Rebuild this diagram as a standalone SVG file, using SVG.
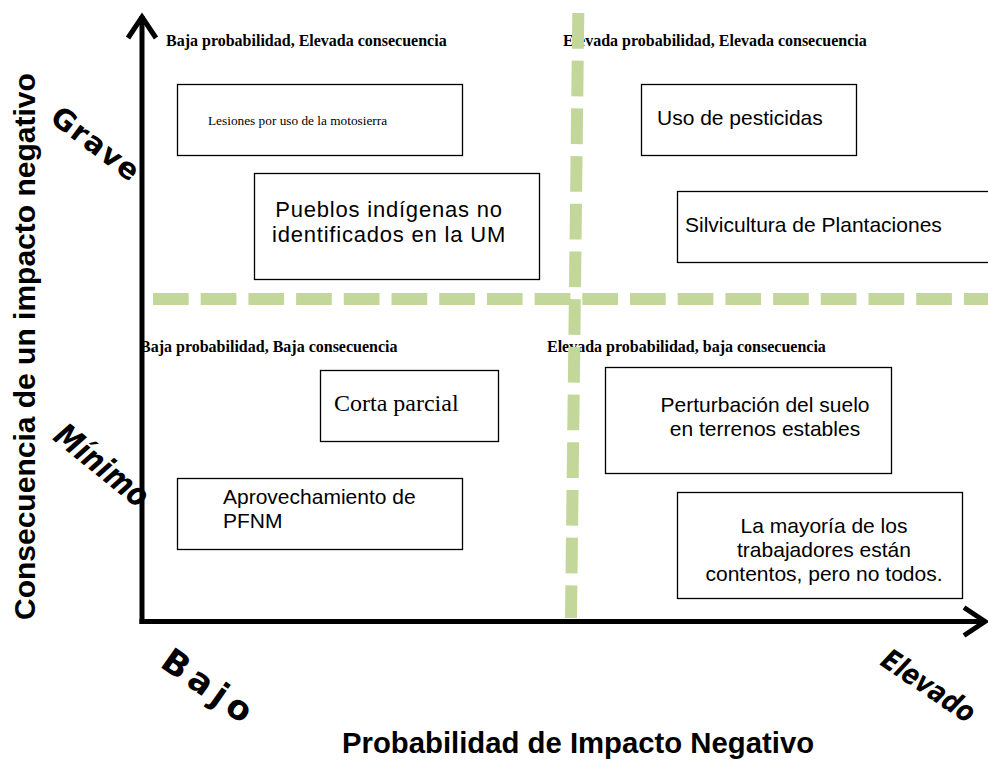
<svg xmlns="http://www.w3.org/2000/svg" width="988" height="760" viewBox="0 0 988 760">
<style>
.box{fill:#fff;stroke:#000;stroke-width:1.3}
.hdr{font-family:"Liberation Serif","Times New Roman",serif;font-weight:bold;font-size:16px;fill:#000}
.sans{font-family:"Liberation Sans",Arial,sans-serif;font-size:21px;fill:#000}
.big{font-family:"Liberation Sans",Arial,sans-serif;font-weight:bold;font-size:29.3px;fill:#000}
.rot{font-family:"DejaVu Sans","Liberation Sans",sans-serif;font-weight:bold;fill:#000}
.dash{stroke:#c4d79b;stroke-width:12;stroke-dasharray:35.7 12;fill:none}
.axis{stroke:#000;stroke-width:5;fill:none}
</style>
<defs>
<marker id="chev" markerUnits="userSpaceOnUse" markerWidth="40" markerHeight="40" viewBox="-30 -20 40 40" refX="0" refY="0" orient="auto">
<path d="M-22,-14 L-1,0 L-22,14" fill="none" stroke="#000" stroke-width="5"/>
</marker>
</defs>
<rect width="988" height="760" fill="#fff"/>

<g id="quadrant-labels">
<text class="hdr" x="166" y="46">Baja probabilidad, Elevada consecuencia</text>
<text class="hdr" x="563" y="46">Elevada probabilidad, Elevada consecuencia</text>
<text class="hdr" x="140" y="352">Baja probabilidad, Baja consecuencia</text>
<text class="hdr" x="547" y="352">Elevada probabilidad, baja consecuencia</text>
</g>

<g id="axis-labels">
<text class="big" style="font-size:30px" transform="translate(35,620) rotate(-90)">Consecuencia de un impacto negativo</text>
<text class="big" x="342" y="753">Probabilidad de Impacto Negativo</text>
<text class="rot" style="font-size:29px;letter-spacing:1.5px" text-anchor="middle" transform="translate(90,152) rotate(37)">Grave</text>
<text class="rot" style="font-size:27px;font-style:italic" text-anchor="middle" transform="translate(95,474) rotate(39) scale(1,1.2)">Mínimo</text>
<text class="rot" style="font-size:34px;letter-spacing:6px" text-anchor="middle" transform="translate(203,697) rotate(35)">Bajo</text>
<text class="rot" style="font-size:24px;font-style:italic" text-anchor="middle" transform="translate(923,694) rotate(34) scale(1,1.2)">Elevado</text>
</g>

<g id="connectors">
<line class="dash" x1="153" y1="299" x2="1000" y2="299"/>
<line class="dash" x1="578.3" y1="13" x2="571" y2="618"/>
<line class="axis" x1="142" y1="624" x2="142" y2="16" marker-end="url(#chev)"/>
<line class="axis" x1="139.5" y1="621.5" x2="986" y2="621.5" marker-end="url(#chev)"/>
</g>

<g id="node-lesiones">
<rect class="box" x="177.5" y="84.5" width="285" height="71"/>
<text x="208" y="125" font-family="'Liberation Serif','Times New Roman',serif" font-size="13.3">Lesiones por uso de la motosierra</text>
</g>
<g id="node-pueblos">
<rect class="box" x="254.5" y="173.5" width="285" height="106"/>
<text class="sans" style="font-size:22px;letter-spacing:0.8px" text-anchor="middle"><tspan x="389" y="217">Pueblos indígenas no</tspan><tspan x="389" y="242">identificados en la UM</tspan></text>
</g>
<g id="node-pesticidas">
<rect class="box" x="641.5" y="84.5" width="215" height="71"/>
<text class="sans" x="657" y="125">Uso de pesticidas</text>
</g>
<g id="node-silvicultura">
<rect class="box" x="677.5" y="191.5" width="330" height="71"/>
<text class="sans" x="685" y="232">Silvicultura de Plantaciones</text>
</g>
<g id="node-corta">
<rect class="box" x="320.5" y="370.5" width="178" height="71"/>
<text x="334" y="411" font-family="'Liberation Serif','Times New Roman',serif" font-size="24">Corta parcial</text>
</g>
<g id="node-aprovechamiento">
<rect class="box" x="177.5" y="478.5" width="285" height="71"/>
<text class="sans"><tspan x="223" y="504">Aprovechamiento de</tspan><tspan x="223" y="528">PFNM</tspan></text>
</g>
<g id="node-perturbacion">
<rect class="box" x="605.5" y="367.5" width="286" height="106"/>
<text class="sans" text-anchor="middle"><tspan x="765" y="412">Perturbación del suelo</tspan><tspan x="765" y="436">en terrenos estables</tspan></text>
</g>
<g id="node-trabajadores">
<rect class="box" x="677.5" y="492.5" width="285" height="106"/>
<text class="sans" text-anchor="middle"><tspan x="824" y="533">La mayoría de los</tspan><tspan x="824" y="557">trabajadores están</tspan><tspan x="824" y="581">contentos, pero no todos.</tspan></text>
</g>
</svg>
